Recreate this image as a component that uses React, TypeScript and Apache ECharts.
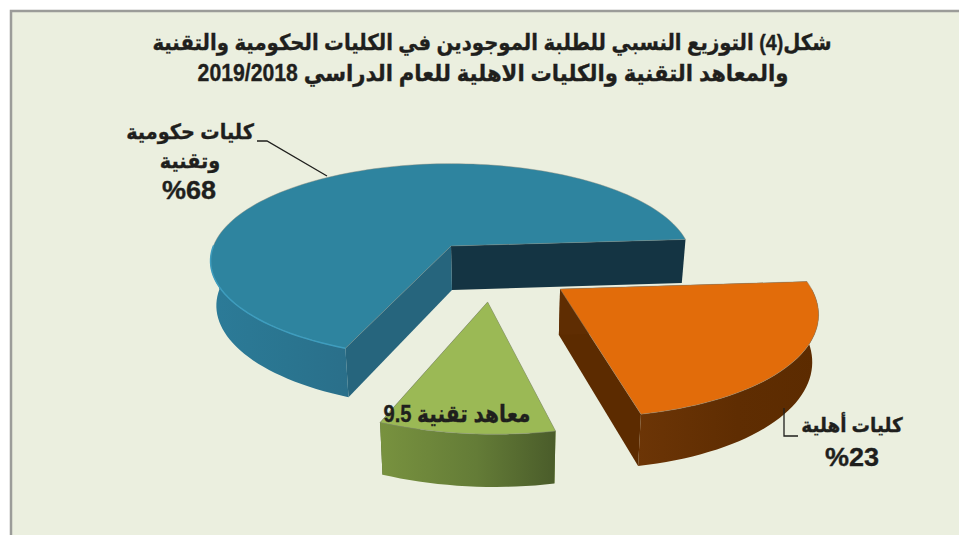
import React, { useEffect, useRef } from "react";
import * as echarts from "echarts";

const categories = ["كليات حكومية وتقنية", "معاهد تقنية", "كليات أهلية"];
const shares = [68, 9.5, 23];
const titleLines = [
  "شكل(4) التوزيع النسبي للطلبة الموجودين في الكليات الحكومية والتقنية",
  "والمعاهد التقنية والكليات الاهلية للعام الدراسي 2019/2018",
];

// projection of the pie plane (layout constants)
const CX = 451, CY = 246, F = 240, FH = 95.9, P = 0.155, DEPTH = 44, START = 4;
const VANISH_X = 500, BOTTOM_SCALE = 0.98;
const EXPLODE: number[][] = [[0, 0], [0.14, -0.535], [0.425, -0.419]];
const RADIUS = [0.99, 0.97, 0.98];
const PAINT = [
  {
    top: "#2e849f", rim: "#3d9dbf",
    wall: ["#2c7b98", "#2a7590", "#2a6f8a"],
    startFace: "#143443", endFace: "#26657d",
  },
  {
    top: "#9bb955", rim: "",
    wall: ["#78923f", "#647c37", "#4a5c2a"],
    startFace: "#4a5c2a", endFace: "#78923f",
  },
  {
    top: "#e26c0a", rim: "",
    wall: ["#6c3506", "#5f2d02", "#5c2b00"],
    startFace: "#5c2b00", endFace: "#5f2d02",
  },
];

function projectTop(x: number, y: number): number[] {
  const k = 1 + P * y;
  return [CX + (F * x) / k, CY - (FH * y) / k];
}
function projectBottom(x: number, y: number): number[] {
  const t = projectTop(x, y);
  const d = DEPTH / (1 + 0.11 * y);
  return [VANISH_X + (t[0] - VANISH_X) * BOTTOM_SCALE, t[1] + d];
}

const total = shares.reduce((a, b) => a + b, 0);

function renderSlice(params: any, api: any) {
  const i = api.value(1) as number;
  const value = api.value(0) as number;
  let from = START;
  for (let j = 0; j < i; j++) from += (shares[j] / total) * 360;
  const sweep = (value / total) * 360;
  const [ex, ey] = EXPLODE[i];
  const r = RADIUS[i];
  const paint = PAINT[i];
  const arc: number[][] = [];
  const steps = Math.ceil(sweep / 2);
  for (let s = 0; s <= steps; s++) {
    const a = ((from + (sweep * s) / steps) * Math.PI) / 180;
    arc.push([ex + r * Math.cos(a), ey + r * Math.sin(a), Math.sin(a)]);
  }
  const apexT = projectTop(ex, ey);
  const apexB = projectBottom(ex, ey);
  const first = arc[0];
  const last = arc[arc.length - 1];
  const topPts = [apexT, ...arc.map((p) => projectTop(p[0], p[1]))];
  const front = arc.filter((p) => p[2] < 0.02);
  const wallPts = [
    ...front.map((p) => projectTop(p[0], p[1])),
    ...front.slice().reverse().map((p) => projectBottom(p[0], p[1])),
  ];
  const face = (p: number[], fill: string) => ({
    type: "polygon",
    shape: {
      points: [apexT, projectTop(p[0], p[1]), projectBottom(p[0], p[1]), apexB],
    },
    style: { fill },
  });
  const children: any[] = [
    face(first, paint.startFace),
    face(last, paint.endFace),
    {
      type: "polygon",
      shape: { points: wallPts },
      style: {
        fill: new echarts.graphic.LinearGradient(0, 0, 1, 0, [
          { offset: 0, color: paint.wall[0] },
          { offset: 0.55, color: paint.wall[1] },
          { offset: 1, color: paint.wall[2] },
        ]),
      },
    },
    {
      type: "polygon",
      shape: { points: topPts },
      style: { fill: paint.top, stroke: "rgba(130,135,125,0.55)", lineWidth: 0.8 },
    },
  ];
  if (paint.rim) {
    children.push({
      type: "polyline",
      shape: { points: front.map((p) => projectTop(p[0], p[1])) },
      style: { fill: "none", stroke: paint.rim, lineWidth: 1.5 },
    });
  }
  return { type: "group", children };
}

const INK = "#1f1f1d";
const label = (
  text: string,
  x: number,
  y: number,
  fontSize: number,
  scaleX = 1
) => ({
  type: "text",
  x,
  y,
  scaleX,
  z: 20,
  style: {
    text,
    fill: INK,
    stroke: INK,
    lineWidth: 0.35,
    align: "center",
    verticalAlign: "middle",
    font: `bold ${fontSize}px "Liberation Sans", "DejaVu Sans", sans-serif`,
  },
});
const leader = (points: number[][]) => ({
  type: "polyline",
  shape: { points },
  style: { fill: "none", stroke: "#1f1f1d", lineWidth: 1.3 },
  z: 20,
});

export default function App() {
  const ref = useRef<HTMLDivElement>(null);
  useEffect(() => {
    document.body.style.margin = "0";
    const chart = echarts.init(ref.current!, undefined, { renderer: "svg" });
    chart.setOption({
      animation: false,
      backgroundColor: "#ffffff",
      graphic: [
        {
          type: "rect",
          z: -10,
          shape: { x: 11, y: 11, width: 960, height: 540 },
          style: { fill: "#ebefdf", stroke: "#9b9c99", lineWidth: 2.5 },
        },
        label(titleLines[0], 492, 42, 22, 0.895),
        label(titleLines[1], 493, 73, 23, 0.922),
        label("كليات حكومية", 190, 132, 21, 0.92),
        label("وتقنية", 190, 161, 21, 0.92),
        label("%" + shares[0], 189, 190, 25, 1.08),
        label("معاهد تقنية " + shares[1], 457, 414, 24, 0.84),
        label("كليات أهلية", 852, 425, 20, 0.92),
        label("%" + shares[2], 852, 457, 25, 1.08),
        leader([[257, 141], [267, 141], [327, 176]]),
        leader([[784, 408], [784, 436], [798, 436]]),
      ],
      series: [
        {
          type: "custom",
          coordinateSystem: "none",
          name: "share",
          data: shares.map((v, i) => ({ name: categories[i], value: [v, i] })),
          renderItem: renderSlice,
          silent: true,
          z: 5,
        },
      ],
    });
    return () => chart.dispose();
  }, []);
  return (
    <div
      ref={ref}
      dir="rtl"
      style={{ width: 959, height: 535, position: "fixed", left: 0, top: 0 }}
    />
  );
}
